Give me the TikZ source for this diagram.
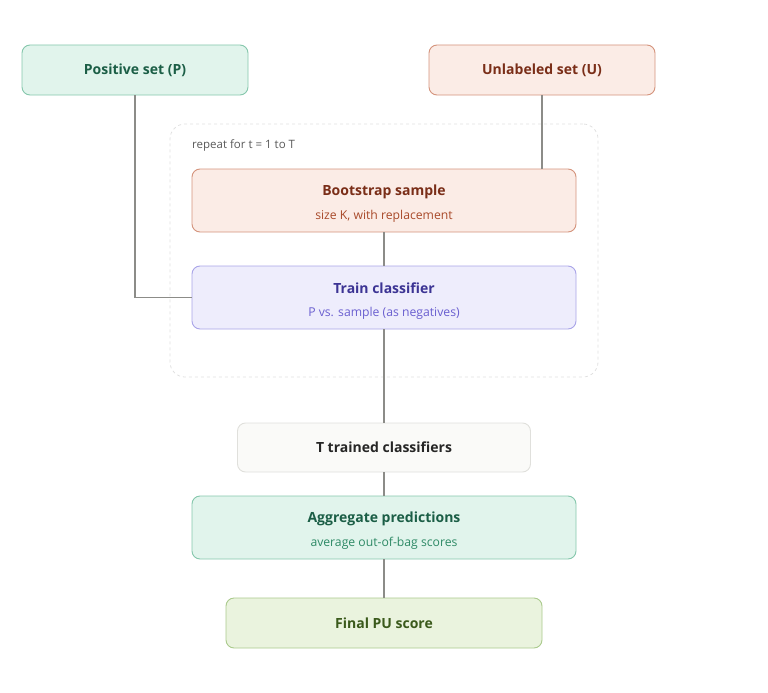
\documentclass[tikz,border=0pt]{standalone}
\usepackage{fontspec}
\setmainfont{Open Sans}
\usetikzlibrary{positioning}
\definecolor{grnfill}{HTML}{E1F4EC}
\definecolor{grndraw}{HTML}{85C7AC}
\definecolor{grntext}{HTML}{1B5E46}
\definecolor{grnsub}{HTML}{2E8A66}
\definecolor{redfill}{HTML}{FBECE6}
\definecolor{reddraw}{HTML}{D4937C}
\definecolor{redtext}{HTML}{7A2E18}
\definecolor{redsub}{HTML}{A94A2A}
\definecolor{purfill}{HTML}{EEEDFC}
\definecolor{purdraw}{HTML}{A9A4E8}
\definecolor{purtext}{HTML}{3C3494}
\definecolor{pursub}{HTML}{6A5FD0}
\definecolor{gryfill}{HTML}{FAFAF8}
\definecolor{grydraw}{HTML}{E0E0DC}
\definecolor{limfill}{HTML}{EAF3DE}
\definecolor{limdraw}{HTML}{AACA8C}
\definecolor{limtext}{HTML}{3B5A1C}
\definecolor{wire}{HTML}{8C8C88}
\newcommand{\ttl}[1]{{\fontsize{14}{17}\selectfont\bfseries #1}}
\newcommand{\sbt}[1]{{\fontsize{12.2}{14}\selectfont #1}}
\newcommand{\hdr}[1]{\rule{0pt}{17pt}\ttl{#1}\\[11pt]}
\tikzstyle{box} = [rectangle, rounded corners=8pt, line width=0.9pt, align=center, inner sep=0pt]
\tikzstyle{posbox} = [box, fill=grnfill, draw=grndraw, text=grntext]
\tikzstyle{unlbox} = [box, fill=redfill, draw=reddraw, text=redtext]
\tikzstyle{trnbox} = [box, fill=purfill, draw=purdraw, text=purtext]
\tikzstyle{resbox} = [box, fill=gryfill, draw=grydraw, text=black!85]
\tikzstyle{finbox} = [box, fill=limfill, draw=limdraw, text=limtext]
\tikzstyle{link} = [wire, line width=1.4pt]

\begin{document}
\begin{tikzpicture}[x=1pt,y=-1pt]
\useasboundingbox (0,0) rectangle (768,693);

\node (loop) [draw=black!12, dashed, rounded corners=15pt, line width=0.8pt, minimum width=428pt, minimum height=253pt] at (384,250.5) {};
\node (looplabel) [anchor=west, text=black!65, inner sep=0pt] at (192,145) {{\fontsize{11.5}{14}\selectfont repeat for t = 1 to T}};

\node (P) [posbox, minimum width=226pt, minimum height=50pt] at (135,70) {\ttl{Positive set (P)}};
\node (U) [unlbox, minimum width=226pt, minimum height=50pt] at (542,70) {\ttl{Unlabeled set (U)}};
\node (boot) [unlbox, minimum width=384pt, minimum height=63pt] at (384,200.5) {\hdr{Bootstrap sample}{\color{redsub}\sbt{size K, with replacement}}};
\node (train) [trnbox, minimum width=384pt, minimum height=63pt] at (384,297.5) {\hdr{Train classifier}{\color{pursub}\sbt{P vs. sample (as negatives)}}};
\node (bag) [resbox, minimum width=293pt, minimum height=49pt] at (384,447.5) {\ttl{T trained classifiers}};
\node (agg) [posbox, minimum width=384pt, minimum height=63pt] at (384,527.5) {\hdr{Aggregate predictions}{\color{grnsub}\sbt{average out-of-bag scores}}};
\node (score) [finbox, minimum width=316pt, minimum height=50pt] at (384,623) {\ttl{Final PU score}};

\draw [link] (P.south) |- (train.west);
\draw [link] (U.south) -- (U.south |- boot.north);
\draw [link] (boot) -- (train);
\draw [link] (train) -- (bag);
\draw [link] (bag) -- (agg);
\draw [link] (agg) -- (score);

\end{tikzpicture}
\end{document}
